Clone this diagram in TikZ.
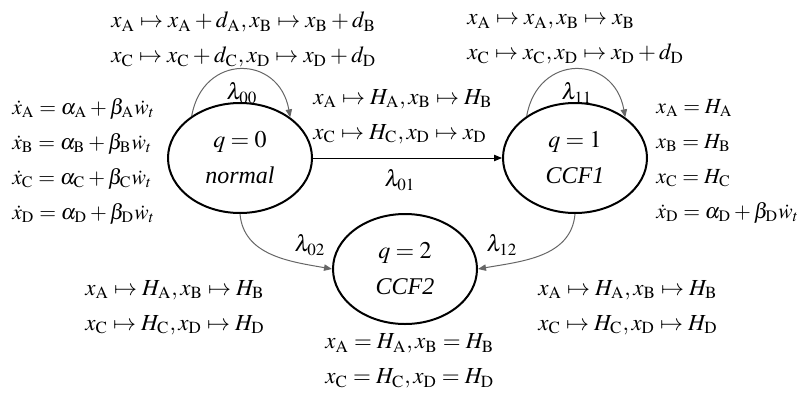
\documentclass[tikz,border=0pt]{standalone}
\usepackage{amsmath}
\usepackage{mathptmx}
\usepackage{fontspec}
\setmainfont{Liberation Serif}
\usepackage{tikz}
\usetikzlibrary{arrows.meta,shapes.geometric}

\newcommand{\xv}[1]{x_{\mathrm{#1}}}
\newcommand{\xd}[1]{\dot{x}_{\mathrm{#1}}}
\newcommand{\Hv}[1]{H_{\mathrm{#1}}}
\newcommand{\dv}[1]{d_{\mathrm{#1}}}
\newcommand{\al}[1]{\alpha_{\mathrm{#1}}}
\newcommand{\be}[1]{\beta_{\mathrm{#1}}}

\tikzset{
  mode/.style={ellipse,draw,line width=1pt,minimum width=72pt,minimum height=55pt,
    inner sep=0pt,align=center,font=\fontsize{12}{18}\selectfont},
  eqs/.style={anchor=west,align=left,inner sep=0pt,font=\fontsize{11.5}{17.5}\selectfont},
  floweqs/.style={eqs,font=\fontsize{10.8}{17.5}\selectfont},
  trans/.style={draw=black!60,line width=0.5pt,-{Triangle[length=4pt,width=3.2pt]}},
  rate/.style={inner sep=0pt,font=\fontsize{11.5}{14}\selectfont}
}

\begin{document}
\begin{tikzpicture}[x=0.5pt,y=0.5pt]
\useasboundingbox (0,0) rectangle (802,-396);
\node[mode](n0) at (240,-158) {$q=0$\\\textit{normal}};
\node[mode](n1) at (575,-158) {$q=1$\\\textit{CCF1}};
\node[mode](n2) at (405,-269) {$q=2$\\\textit{CCF2}};

\draw[trans](n0.139) .. controls +(80:32pt) and +(100:32pt) .. (n0.39);
\draw[trans](n1.139) .. controls +(80:32pt) and +(100:32pt) .. (n1.39);
\draw[trans,draw=black](n0.east)--(n1.west);
\draw[trans](n0.south) to[out=-85,in=170] (n2.west);
\draw[trans](n1.south) to[out=-95,in=10] (n2.east);

\node[rate](l00) at (242,-93) {$\lambda_{00}$};
\node[rate](l11) at (577,-93) {$\lambda_{11}$};
\node[rate](l01) at (400,-180) {$\lambda_{01}$};
\node[rate](l02) at (310,-245) {$\lambda_{02}$};
\node[rate](l12) at (502,-245) {$\lambda_{12}$};

\node[eqs](jump00) at (111,-39.5) {$\xv{A}\mapsto\xv{A}+\dv{A},\xv{B}\mapsto\xv{B}+\dv{B}$\\
  $\xv{C}\mapsto\xv{C}+\dv{C},\xv{D}\mapsto\xv{D}+\dv{D}$};
\node[eqs](jump11) at (467,-39.5) {$\xv{A}\mapsto\xv{A},\xv{B}\mapsto\xv{B}$\\
  $\xv{C}\mapsto\xv{C},\xv{D}\mapsto\xv{D}+\dv{D}$};
\node[eqs](jump01) at (313,-116.5) {$\xv{A}\mapsto\Hv{A},\xv{B}\mapsto\Hv{B}$\\
  $\xv{C}\mapsto\Hv{C},\xv{D}\mapsto\xv{D}$};
\node[eqs](jump02) at (85,-307.5) {$\xv{A}\mapsto\Hv{A},\xv{B}\mapsto\Hv{B}$\\
  $\xv{C}\mapsto\Hv{C},\xv{D}\mapsto\Hv{D}$};
\node[eqs](jump12) at (538,-307.5) {$\xv{A}\mapsto\Hv{A},\xv{B}\mapsto\Hv{B}$\\
  $\xv{C}\mapsto\Hv{C},\xv{D}\mapsto\Hv{D}$};

\node[floweqs](flow0) at (12,-161.5) {$\xd{A}=\al{A}+\be{A}\dot{w}_t$\\
  $\xd{B}=\al{B}+\be{B}\dot{w}_t$\\
  $\xd{C}=\al{C}+\be{C}\dot{w}_t$\\
  $\xd{D}=\al{D}+\be{D}\dot{w}_t$};
\node[floweqs](flow1) at (656,-161.5) {$\xv{A}=\Hv{A}$\\
  $\xv{B}=\Hv{B}$\\
  $\xv{C}=\Hv{C}$\\
  $\xd{D}=\al{D}+\be{D}\dot{w}_t$};
\node[eqs](flow2) at (325,-361) {$\xv{A}=\Hv{A},\xv{B}=\Hv{B}$\\
  $\xv{C}=\Hv{C},\xv{D}=\Hv{D}$};
\end{tikzpicture}
\end{document}
